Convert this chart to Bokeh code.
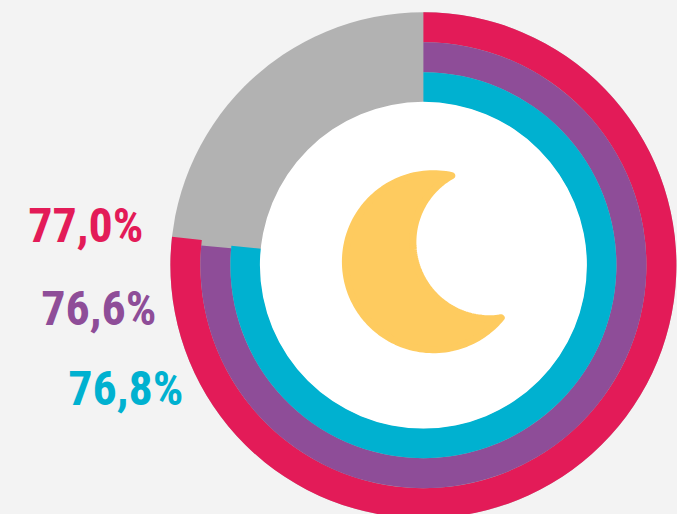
import numpy as np
from bokeh.plotting import figure
from bokeh.embed import file_html
from bokeh.resources import INLINE
from bokeh.core.properties import value

labels = ["77,0%", "76,6%", "76,8%"]
arc_values = [76.8, 76.4, 76.6]
colors = ["#e31b58", "#8e4d98", "#00b1d0"]
track = "#b2b2b2"
bg = "#f3f3f3"
moon_color = "#fecb5f"

W, H = 677, 514
CX, CY = 423.5, 265
def X(px): return px - CX
def Y(py): return CY - py

p = figure(width=W, height=H, output_backend="svg", toolbar_location=None,
           x_range=(X(0.6), X(677.6)), y_range=(Y(514.3), Y(0.3)),
           min_border=0, outline_line_color=None,
           background_fill_color=bg, border_fill_color=bg)
p.axis.visible = False
p.grid.visible = False

outer = [253.0, 223, 193]
inner = [223, 193, 163]
p.circle(x=[0], y=[0], radius=[outer[0]], color=track, line_color=None)
for v, c, r0, r1 in zip(arc_values, colors, inner, outer):
    p.annular_wedge(x=[0], y=[0], inner_radius=[r0], outer_radius=[r1],
                    start_angle=[np.pi/2], end_angle=[np.pi/2 - v/100*2*np.pi],
                    direction="clock", color=c, line_color=None)
p.circle(x=[0], y=[0], radius=[163.5], color="white", line_color=None)

# crescent icon: two circles, outlined with a round join for the soft tips
ox, oy, orad = X(433.5), Y(261.5), 88.0
ix, iy, irad = X(489.5), Y(242), 76.5
d = np.hypot(ix-ox, iy-oy)
a = (orad**2 - irad**2 + d**2)/(2*d)
h = np.sqrt(orad**2 - a**2)
base = np.arctan2(iy-oy, ix-ox)
off = np.arctan2(h, a)
ot = np.linspace(base + off, base - off + 2*np.pi, 120)
mx = list(ox + orad*np.cos(ot)); my = list(oy + orad*np.sin(ot))
t0 = np.arctan2(my[-1]-iy, mx[-1]-ix) % (2*np.pi)
t1 = np.arctan2(my[0]-iy, mx[0]-ix) % (2*np.pi)
it = np.linspace(t0, t1, 100)
mx += list(ix + irad*np.cos(it)); my += list(iy + irad*np.sin(it))
p.patch(mx, my, fill_color=moon_color, line_color=moon_color, line_width=7, line_join="round")

text_right = [143.5, 156.5, 183.5]
text_base = [225, 308, 388]
for t, c, xr, yb in zip(labels, colors, text_right, text_base):
    p.text(x=[X(xr)], y=[Y(yb)], text=[t], text_color=c, text_align="right",
           text_baseline="alphabetic", text_font=value("Roboto Condensed"),
           text_font_style="bold", text_font_size="48px")

html = file_html(p, INLINE)
html = html.replace("<head>", f"<head><style>html,body{{background:{bg};}}</style>", 1)
open("out.html", "w").write(html)
